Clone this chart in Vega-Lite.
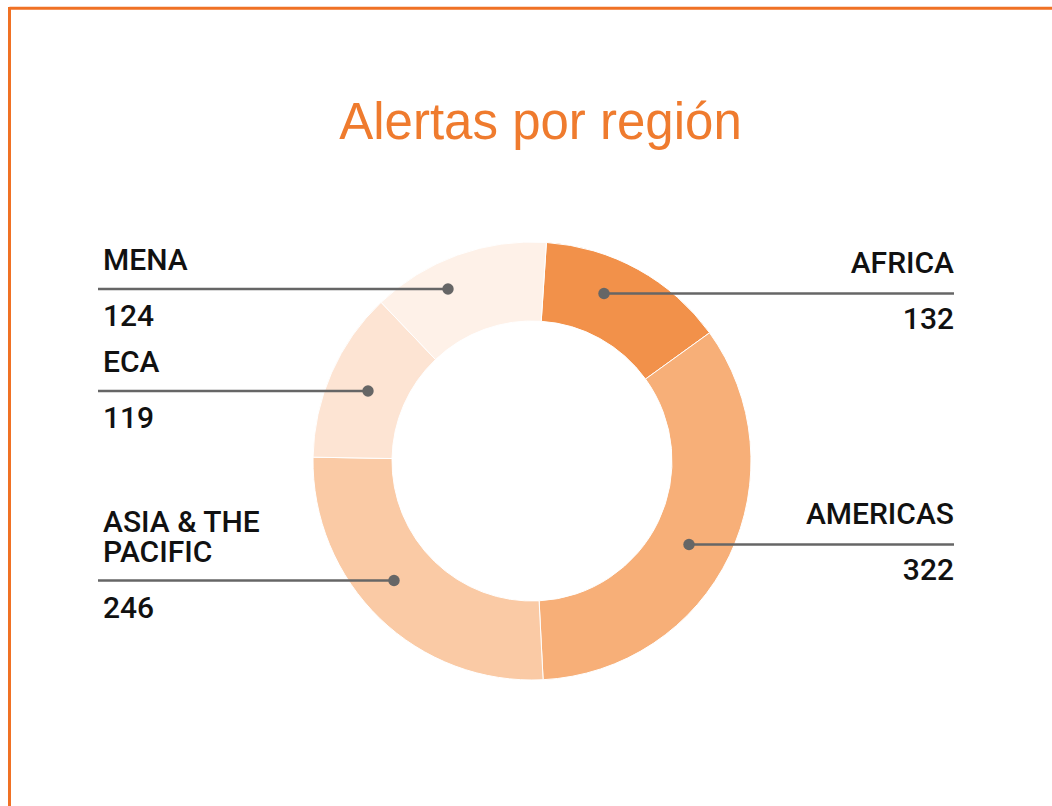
{
  "$schema": "https://vega.github.io/schema/vega-lite/v6.json",
  "autosize": {"type": "none"},
  "width": 1000,
  "height": 600,
  "padding": {"left": 32, "top": 161, "right": 20, "bottom": 45},
  "background": "white",
  "config": {"view": {"stroke": null}},
  "data": {
    "values": [
      {"region": "AFRICA", "value": 132, "name1": "", "name2": "AFRICA", "side": "right", "dotX": 72, "dotY": -167.5, "endX": 422},
      {"region": "AMERICAS", "value": 322, "name1": "", "name2": "AMERICAS", "side": "right", "dotX": 157, "dotY": 83.5, "endX": 422},
      {"region": "ASIA & THE PACIFIC", "value": 246, "name1": "ASIA & THE", "name2": "PACIFIC", "side": "left", "dotX": -138, "dotY": 119.5, "endX": -434},
      {"region": "ECA", "value": 119, "name1": "", "name2": "ECA", "side": "left", "dotX": -164, "dotY": -70, "endX": -434},
      {"region": "MENA", "value": 124, "name1": "", "name2": "MENA", "side": "left", "dotX": -84, "dotY": -172, "endX": -434}
    ]
  },
  "resolve": {"scale": {"x": "shared", "y": "shared"}},
  "layer": [
    {
      "data": {"values": [
        {"fx": -522.5, "fy": -452.7, "fx2": 530, "fy2": -452.7},
        {"fx": -522.5, "fy": -454, "fx2": -522.5, "fy2": 360}
      ]},
      "mark": {"type": "rule", "color": "#F07124", "strokeWidth": 3},
      "encoding": {
        "x": {"field": "fx", "type": "quantitative", "scale": {"domain": [-500, 500]}, "axis": null},
        "x2": {"field": "fx2"},
        "y": {"field": "fy", "type": "quantitative", "scale": {"domain": [-300, 300], "reverse": true}, "axis": null},
        "y2": {"field": "fy2"}
      }
    },
    {
      "data": {"values": [{"title": "Alertas por región", "tx": 8.5, "ty": -322}]},
      "mark": {"type": "text", "align": "center", "baseline": "alphabetic", "font": "Liberation Sans", "fontSize": 51, "fontWeight": "normal", "color": "#EF7B2E"},
      "encoding": {
        "x": {"field": "tx", "type": "quantitative"},
        "y": {"field": "ty", "type": "quantitative"},
        "text": {"field": "title"}
      }
    },
    {
      "mark": {"type": "arc", "radius": 219, "radius2": 140, "stroke": "white", "strokeWidth": 1},
      "encoding": {
        "theta": {"field": "value", "type": "quantitative", "stack": true, "scale": {"range": [0.066, 6.349]}},
        "color": {
          "field": "region",
          "type": "nominal",
          "scale": {
            "domain": ["AFRICA", "AMERICAS", "ASIA & THE PACIFIC", "ECA", "MENA"],
            "range": ["#F2914A", "#F7AF78", "#FACAA5", "#FDE4D3", "#FEF1E8"]
          },
          "legend": null
        },
        "order": {"field": "region", "sort": "ascending"}
      }
    },
    {
      "mark": {"type": "rule", "color": "#666666", "strokeWidth": 2.5},
      "encoding": {
        "x": {"field": "dotX", "type": "quantitative"},
        "x2": {"field": "endX"},
        "y": {"field": "dotY", "type": "quantitative"}
      }
    },
    {
      "mark": {"type": "point", "filled": true, "color": "#666666", "opacity": 1, "size": 130},
      "encoding": {
        "x": {"field": "dotX", "type": "quantitative"},
        "y": {"field": "dotY", "type": "quantitative"}
      }
    },
    {
      "transform": [{"filter": "datum.side === 'left'"}],
      "mark": {"type": "text", "align": "left", "baseline": "alphabetic", "dx": 5, "dy": -19, "font": "Roboto", "fontWeight": 500, "fontSize": 30, "color": "#111111"},
      "encoding": {
        "x": {"field": "endX", "type": "quantitative"},
        "y": {"field": "dotY", "type": "quantitative"},
        "text": {"field": "name2"}
      }
    },
    {
      "transform": [{"filter": "datum.side === 'left'"}],
      "mark": {"type": "text", "align": "left", "baseline": "alphabetic", "dx": 5, "dy": -49, "font": "Roboto", "fontWeight": 500, "fontSize": 30, "color": "#111111"},
      "encoding": {
        "x": {"field": "endX", "type": "quantitative"},
        "y": {"field": "dotY", "type": "quantitative"},
        "text": {"field": "name1"}
      }
    },
    {
      "transform": [{"filter": "datum.side === 'left'"}],
      "mark": {"type": "text", "align": "left", "baseline": "alphabetic", "dx": 5, "dy": 37, "font": "Roboto", "fontWeight": 500, "fontSize": 30, "color": "#111111"},
      "encoding": {
        "x": {"field": "endX", "type": "quantitative"},
        "y": {"field": "dotY", "type": "quantitative"},
        "text": {"field": "value", "type": "quantitative"}
      }
    },
    {
      "transform": [{"filter": "datum.side === 'right'"}],
      "mark": {"type": "text", "align": "right", "baseline": "alphabetic", "dy": -21, "font": "Roboto", "fontWeight": 500, "fontSize": 30, "color": "#111111"},
      "encoding": {
        "x": {"field": "endX", "type": "quantitative"},
        "y": {"field": "dotY", "type": "quantitative"},
        "text": {"field": "name2"}
      }
    },
    {
      "transform": [{"filter": "datum.side === 'right'"}],
      "mark": {"type": "text", "align": "right", "baseline": "alphabetic", "dy": 35, "font": "Roboto", "fontWeight": 500, "fontSize": 30, "color": "#111111"},
      "encoding": {
        "x": {"field": "endX", "type": "quantitative"},
        "y": {"field": "dotY", "type": "quantitative"},
        "text": {"field": "value", "type": "quantitative"}
      }
    }
  ]
}
